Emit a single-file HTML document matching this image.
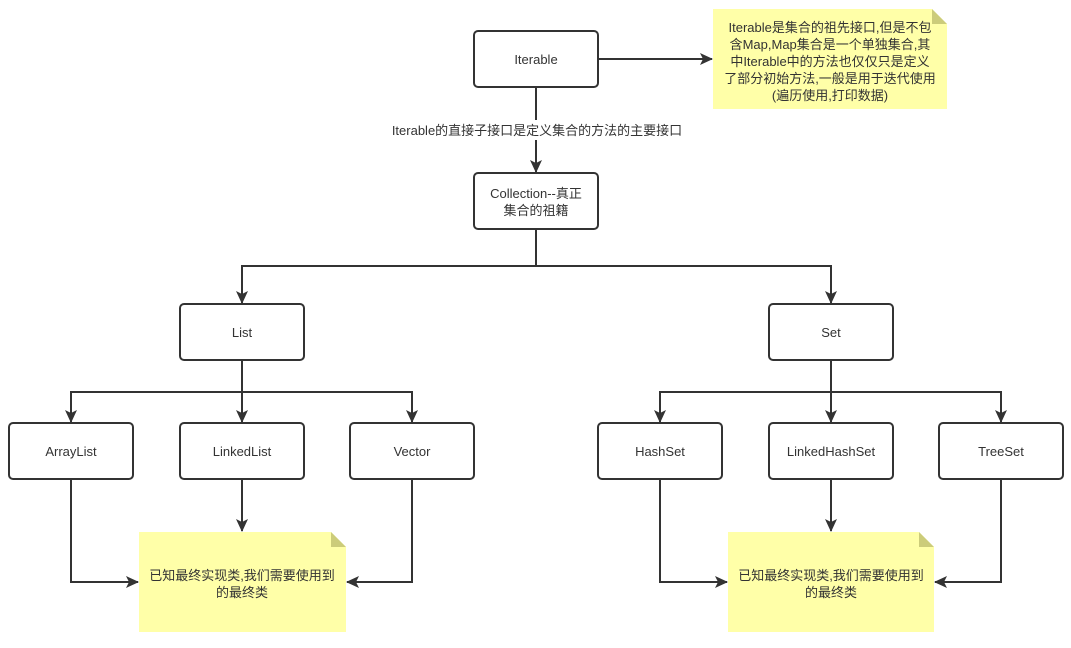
<!DOCTYPE html>
<html><head><meta charset="utf-8"><style>
body{margin:0;background:#fff;}
svg text{font-family:"Liberation Sans","Noto Sans CJK SC",sans-serif;font-size:13px;fill:#333;}
</style></head><body>
<svg width="1071" height="643" xmlns="http://www.w3.org/2000/svg">
<defs><marker id="a" markerWidth="14" markerHeight="14" refX="12" refY="6" orient="auto" markerUnits="userSpaceOnUse" viewBox="0 0 14 14"><path d="M0,0 L13,6 L0,12 L3,6 Z" fill="#333"/></marker></defs>
<g fill="none" stroke="#333" stroke-width="2">
<path d="M598,59 H712" marker-end="url(#a)"/>
<path d="M536,87 V172" marker-end="url(#a)"/>
<path d="M536,229 V266 H242 V303" marker-end="url(#a)"/>
<path d="M536,266 H831 V303" marker-end="url(#a)"/>
<path d="M242,360 V392 H71 V422" marker-end="url(#a)"/>
<path d="M242,392 V422" marker-end="url(#a)"/>
<path d="M242,392 H412 V422" marker-end="url(#a)"/>
<path d="M831,360 V392 H660 V422" marker-end="url(#a)"/>
<path d="M831,392 V422" marker-end="url(#a)"/>
<path d="M831,392 H1001 V422" marker-end="url(#a)"/>
<path d="M71,479 V582 H138" marker-end="url(#a)"/>
<path d="M242,479 V531" marker-end="url(#a)"/>
<path d="M412,479 V582 H347" marker-end="url(#a)"/>
<path d="M660,479 V582 H727" marker-end="url(#a)"/>
<path d="M831,479 V531" marker-end="url(#a)"/>
<path d="M1001,479 V582 H935" marker-end="url(#a)"/>
</g>
<rect x="388" y="120" width="298" height="20" fill="#fff"/>
<text x="537" y="135" text-anchor="middle">Iterable的直接子接口是定义集合的方法的主要接口</text>
<g fill="#fff" stroke="#333" stroke-width="2">
<rect x="474" y="31" width="124" height="56" rx="4"/>
<rect x="474" y="173" width="124" height="56" rx="4"/>
<rect x="180" y="304" width="124" height="56" rx="4"/>
<rect x="769" y="304" width="124" height="56" rx="4"/>
<rect x="9" y="423" width="124" height="56" rx="4"/>
<rect x="180" y="423" width="124" height="56" rx="4"/>
<rect x="350" y="423" width="124" height="56" rx="4"/>
<rect x="598" y="423" width="124" height="56" rx="4"/>
<rect x="769" y="423" width="124" height="56" rx="4"/>
<rect x="939" y="423" width="124" height="56" rx="4"/>
</g>
<g text-anchor="middle">
<text x="536" y="64">Iterable</text>
<text x="536" y="198">Collection--真正</text>
<text x="536" y="215">集合的祖籍</text>
<text x="242" y="337">List</text>
<text x="831" y="337">Set</text>
<text x="71" y="456">ArrayList</text>
<text x="242" y="456">LinkedList</text>
<text x="412" y="456">Vector</text>
<text x="660" y="456">HashSet</text>
<text x="831" y="456">LinkedHashSet</text>
<text x="1001" y="456">TreeSet</text>
</g>
<g>
<path d="M713,9 H932 L947,24 V109 H713 Z" fill="#ffffa8"/>
<path d="M932,9 L947,24 H932 Z" fill="#cccc7a"/>
<path d="M139,532 H331 L346,547 V632 H139 Z" fill="#ffffa8"/>
<path d="M331,532 L346,547 H331 Z" fill="#cccc7a"/>
<path d="M728,532 H919 L934,547 V632 H728 Z" fill="#ffffa8"/>
<path d="M919,532 L934,547 H919 Z" fill="#cccc7a"/>
</g>
<g text-anchor="middle">
<text x="830" y="32">Iterable是集合的祖先接口,但是不包</text>
<text x="830" y="49">含Map,Map集合是一个单独集合,其</text>
<text x="830" y="66">中Iterable中的方法也仅仅只是定义</text>
<text x="830" y="83">了部分初始方法,一般是用于迭代使用</text>
<text x="830" y="100">(遍历使用,打印数据)</text>
<text x="242" y="580">已知最终实现类,我们需要使用到</text>
<text x="242" y="597">的最终类</text>
<text x="831" y="580">已知最终实现类,我们需要使用到</text>
<text x="831" y="597">的最终类</text>
</g>
</svg>
</body></html>
